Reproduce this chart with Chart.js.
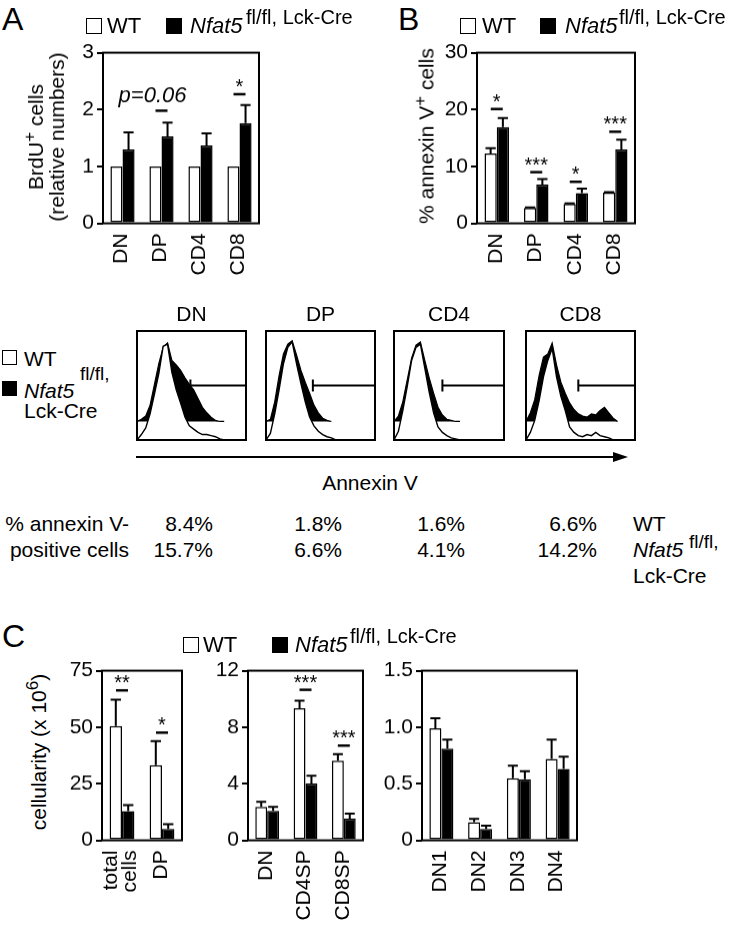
<!DOCTYPE html>
<html>
<head>
<meta charset="utf-8">
<script src="https://cdn.jsdelivr.net/npm/chart.js@4/dist/chart.umd.min.js"></script>
<style>
  body { margin: 0; background: #fff; }
  #fig { position: relative; width: 738px; height: 927px; overflow: hidden; color: #000;
         font-family: "Liberation Sans", Arial, sans-serif; }
  .t { position: absolute; white-space: nowrap; line-height: 1; }
  .sq { position: absolute; box-sizing: border-box; border: 1.5px solid #000; background: #fff; }
  .sq.k { background: #000; }
  .vt { position: absolute; white-space: nowrap; font-size: 21px; line-height: 21px; text-align: center;
        transform: translate(-50%, -50%) rotate(-90deg); }
  .vt sup { font-size: 17px; line-height: 0; }
  .cw { position: absolute; width: 300px; height: 300px; }
</style>
</head>
<body>
<div id="fig">
  <div class="cw" id="chA"><canvas></canvas></div>
  <div class="cw" id="chB"><canvas></canvas></div>
  <div class="cw" id="hDN"><canvas></canvas></div>
  <div class="cw" id="hDP"><canvas></canvas></div>
  <div class="cw" id="hCD4"><canvas></canvas></div>
  <div class="cw" id="hCD8"><canvas></canvas></div>
  <div class="cw" id="chC1"><canvas></canvas></div>
  <div class="cw" id="chC2"><canvas></canvas></div>
  <div class="cw" id="chC3"><canvas></canvas></div>
  <svg style="position:absolute;left:130px;top:450px" width="510" height="16">
    <line x1="6" y1="7" x2="488" y2="7" stroke="#000" stroke-width="2"/>
    <polygon points="498,7 483,2 483,12" fill="#000"/>
  </svg>
</div>
<script>
// groups
const groups = ['WT', 'Nfat5 fl/fl, Lck-Cre'];

// A: BrdU+ cells (relative numbers)
const aCats = ['DN', 'DP', 'CD4', 'CD8'];
const aWT = [1, 1, 1, 1];
const aWTerr = [null, null, null, null];
const aKO = [1.30, 1.53, 1.37, 1.76];
const aKOerr = [1.60, 1.77, 1.58, 2.08];
const aTicks = [0, 1, 2, 3];

// B: % annexin V+ cells
const bCats = ['DN', 'DP', 'CD4', 'CD8'];
const bWT = [12.3, 2.7, 3.4, 5.4];
const bWTerr = [13.2, 2.8, 3.5, 5.5];
const bKO = [16.9, 6.8, 5.3, 13.0];
const bKOerr = [18.5, 7.8, 6.1, 14.7];
const bTicks = [0, 10, 20, 30];

// histograms (annexin V, % of max)
const histCats = ['DN', 'DP', 'CD4', 'CD8'];
const histBins = [0, 4, 8, 12, 16, 20, 24, 28, 32, 36, 40, 44, 48, 52, 56, 60, 64, 68, 72, 76, 80, 84, 88, 92, 96, 100];
const hWT_DN = [0, 5, 11, 24, 42, 61, 86, 88, 62, 46, 34, 21, 13, 10, 7, 5, 5, 4, 3, 1, 0, 0, 0, 0, 0, 0];
const hKO_DN = [0, 2, 5, 15, 34, 53, 68, 72, 56, 52, 47, 40, 34, 29, 21, 13, 8, 4, 1, 0, 0, null, null, null, null, null];
const hWT_DP = [0, 6, 24, 46, 70, 85, 90, 70, 52, 35, 21, 13, 8, 5, 3, 2, 0, 0, 0, 0, 0, 0, 0, 0, 0, 0];
const hKO_DP = [0, 2, 18, 42, 62, 71, 74, 61, 47, 36, 26, 15, 8, 3, 1, 0, null, null, null, null, null, null, null, null, null, null];
const hWT_CD4 = [0, 8, 27, 49, 73, 85, 88, 66, 44, 25, 12, 7, 4, 2, 1, 0, 0, 0, 0, 0, 0, 0, 0, 0, 0, 0];
const hKO_CD4 = [0, 5, 18, 38, 58, 70, 73, 56, 40, 26, 13, 6, 2, 1, 0, 0, null, null, null, null, null, null, null, null, null, null];
const hWT_CD8 = [0, 7, 18, 36, 58, 73, 84, 58, 40, 27, 12, 7, 4, 3, 5, 4, 7, 4, 3, 2, 0, 0, 0, 0, 0, 0];
const hKO_CD8 = [0, 8, 20, 42, 59, 62, 72, 52, 36, 26, 17, 11, 7, 5, 4, 7, 6, 10, 13, 8, 3, 0, null, null, null, null];
const gateStart = [49, 43, 44, 48];
const gateLevel = 50;
const koBase = 17;

// % annexin V-positive cells
const pctWT = [8.4, 1.8, 1.6, 6.6];
const pctKO = [15.7, 6.6, 4.1, 14.2];

// C: cellularity (x 10^6)
const c1Cats = [['total', 'cells'], 'DP'];
const c1WT = [50.5, 33.2];
const c1WTerr = [62.2, 43.9];
const c1KO = [12.9, 5.0];
const c1KOerr = [15.6, 7.2];
const c1Ticks = [0, 25, 50, 75];

const c2Cats = ['DN', 'CD4SP', 'CD8SP'];
const c2WT = [2.37, 9.35, 5.63];
const c2WTerr = [2.72, 9.87, 6.10];
const c2KO = [2.08, 4.02, 1.54];
const c2KOerr = [2.37, 4.57, 1.89];
const c2Ticks = [0, 4, 8, 12];

const c3Cats = ['DN1', 'DN2', 'DN3', 'DN4'];
const c3WT = [0.99, 0.16, 0.55, 0.72];
const c3WTerr = [1.08, 0.19, 0.66, 0.89];
const c3KO = [0.81, 0.10, 0.54, 0.63];
const c3KOerr = [0.89, 0.13, 0.61, 0.74];
const c3Ticks = [0, 0.5, 1.0, 1.5];

const FONT = '"Liberation Sans", Arial, sans-serif';
Chart.defaults.font.family = FONT;
Chart.defaults.font.size = 21;
Chart.defaults.color = '#000';

const fig = document.getElementById('fig');

// error bars (upper only)
const errorBars = {
  id: 'errorBars',
  afterDatasetsDraw(chart) {
    const { ctx, scales: { y } } = chart;
    ctx.save();
    ctx.strokeStyle = '#000';
    ctx.lineWidth = 2;
    chart.data.datasets.forEach((ds, di) => {
      chart.getDatasetMeta(di).data.forEach((bar, i) => {
        const e = ds.err && ds.err[i];
        if (e == null) return;
        const top = y.getPixelForValue(e);
        const half = bar.width * 0.42;
        ctx.beginPath();
        ctx.moveTo(bar.x, bar.y);
        ctx.lineTo(bar.x, top);
        ctx.moveTo(bar.x - half, top);
        ctx.lineTo(bar.x + half, top);
        ctx.stroke();
      });
    });
    ctx.restore();
  }
};

// box round the plot
const frame = {
  id: 'frame',
  afterDatasetsDraw(chart) {
    const { ctx, chartArea: a } = chart;
    ctx.save();
    ctx.strokeStyle = '#000';
    ctx.lineWidth = 2;
    ctx.strokeRect(a.left, a.top, a.right - a.left, a.bottom - a.top);
    ctx.restore();
  }
};

// rotated category labels, multi-line labels centred on the tick
const xLabels = {
  id: 'xLabels',
  afterDraw(chart) {
    const { ctx, scales: { x }, chartArea: a } = chart;
    ctx.save();
    ctx.fillStyle = '#000';
    ctx.font = '21px ' + FONT;
    ctx.textAlign = 'right';
    ctx.textBaseline = 'middle';
    chart.data.labels.forEach((lab, i) => {
      const lines = Array.isArray(lab) ? lab : [lab];
      ctx.save();
      ctx.translate(x.getPixelForValue(i) - 1, a.bottom + 10);
      ctx.rotate(-Math.PI / 2);
      lines.forEach((ln, j) => ctx.fillText(ln, 0, (j - (lines.length - 1) / 2) * 19));
      ctx.restore();
    });
    ctx.restore();
  }
};

// significance dashes and stars
const marks = {
  id: 'marks',
  afterDatasetsDraw(chart, args, opts) {
    const { ctx, scales: { x, y } } = chart;
    ctx.save();
    ctx.fillStyle = '#000';
    ctx.strokeStyle = '#000';
    (opts.list || []).forEach(m => {
      const px = x.getPixelForValue(m.at);
      const py = y.getPixelForValue(m.y);
      if (!m.noDash) {
        ctx.lineWidth = 2.5;
        ctx.beginPath();
        ctx.moveTo(px - 6, py);
        ctx.lineTo(px + 6, py);
        ctx.stroke();
      }
      if (m.text) {
        ctx.font = (m.italic ? 'italic ' : '') + (m.size || 20) + 'px ' + FONT;
        ctx.textAlign = 'center';
        ctx.textBaseline = 'alphabetic';
        ctx.fillText(m.text, px, py + (m.noDash ? 0 : -1));
      }
    });
    ctx.restore();
  }
};

// move and size the wrapper so the chart area lands on the given box
function placeChart(wrap, chart, area) {
  const ca = chart.chartArea;
  const mL = ca.left, mT = ca.top, mR = chart.width - ca.right, mB = chart.height - ca.bottom;
  wrap.style.left = (area[0] - mL) + 'px';
  wrap.style.top = (area[1] - mT) + 'px';
  wrap.style.width = (area[2] - area[0] + mL + mR) + 'px';
  wrap.style.height = (area[3] - area[1] + mT + mB) + 'px';
  chart.resize();
}

function barChart(id, area, cats, wt, wtErr, ko, koErr, ticks, list, fmt) {
  const wrap = document.getElementById(id);
  const chart = new Chart(wrap.querySelector('canvas'), {
    type: 'bar',
    data: {
      labels: cats,
      datasets: [
        { label: groups[0], data: wt, err: wtErr, backgroundColor: '#fff', borderColor: '#000',
          borderWidth: 1.5, borderSkipped: false, categoryPercentage: 0.62, barPercentage: 1 },
        { label: groups[1], data: ko, err: koErr, backgroundColor: '#000', borderColor: '#000',
          borderWidth: 1.5, borderSkipped: false, categoryPercentage: 0.62, barPercentage: 1 }
      ]
    },
    options: {
      responsive: true,
      maintainAspectRatio: false,
      animation: false,
      events: [],
      layout: { padding: { top: 14, right: 6 } },
      plugins: { legend: { display: false }, tooltip: { enabled: false }, marks: { list: list } },
      scales: {
        x: {
          grid: { display: false },
          border: { display: false },
          ticks: { display: false },
          afterFit: s => { s.height = 80; }
        },
        y: {
          min: ticks[0],
          max: ticks[ticks.length - 1],
          afterBuildTicks: s => { s.ticks = ticks.map(v => ({ value: v })); },
          ticks: { padding: 3, callback: fmt || (v => String(v)) },
          grid: { drawOnChartArea: false, tickLength: 6, color: '#000', lineWidth: 2 },
          border: { display: false },
          afterFit: s => { s.width = 50; }
        }
      }
    },
    plugins: [errorBars, frame, marks, xLabels]
  });
  placeChart(wrap, chart, area);
}

function histChart(id, area, wt, ko, gate) {
  const wrap = document.getElementById(id);
  const chart = new Chart(wrap.querySelector('canvas'), {
    type: 'line',
    data: {
      datasets: [
        { label: 'gate', data: [{ x: gate, y: gateLevel }, { x: 100, y: gateLevel }],
          borderColor: '#000', borderWidth: 2, fill: false, order: 0,
          pointStyle: 'line', pointRotation: 90, pointRadius: [6, 0], pointBorderWidth: 2, pointBorderColor: '#000' },
        { label: groups[0], data: histBins.map((b, i) => ({ x: b, y: wt[i] })),
          borderColor: '#000', borderWidth: 1.4, backgroundColor: '#fff', fill: 'origin',
          pointRadius: 0, tension: 0, order: 1 },
        { label: groups[1], data: histBins.map((b, i) => ({ x: b, y: ko[i] == null ? null : ko[i] + koBase })),
          borderColor: '#000', borderWidth: 1.2, backgroundColor: '#000', fill: { value: koBase },
          pointRadius: 0, tension: 0, order: 2 }
      ]
    },
    options: {
      responsive: true,
      maintainAspectRatio: false,
      animation: false,
      events: [],
      layout: { padding: 2 },
      plugins: { legend: { display: false }, tooltip: { enabled: false } },
      scales: {
        x: { type: 'linear', min: 0, max: 100, display: false },
        y: { min: 0, max: 100, display: false }
      }
    },
    plugins: [frame]
  });
  placeChart(wrap, chart, area);
}

barChart('chA', [103, 53, 259, 223], aCats, aWT, aWTerr, aKO, aKOerr, aTicks, [
  { at: 1, y: 1.98 },
  { at: 0.77, y: 2.12, text: 'p=0.06', italic: true, size: 22, noDash: true },
  { at: 3, y: 2.27, text: '*' }
]);
barChart('chB', [477, 53, 635, 223], bCats, bWT, bWTerr, bKO, bKOerr, bTicks, [
  { at: 0, y: 20.1, text: '*' },
  { at: 1, y: 9.0, text: '***' },
  { at: 2, y: 7.3, text: '*' },
  { at: 3, y: 16.1, text: '***' }
]);
barChart('chC1', [102, 671, 182, 840], c1Cats, c1WT, c1WTerr, c1KO, c1KOerr, c1Ticks, [
  { at: 0, y: 66.3, text: '**' },
  { at: 1, y: 47.6, text: '*' }
]);
barChart('chC2', [248, 671, 363, 840], c2Cats, c2WT, c2WTerr, c2KO, c2KOerr, c2Ticks, [
  { at: 1, y: 10.65, text: '***' },
  { at: 2, y: 6.7, text: '***' }
]);
barChart('chC3', [422, 671, 577, 840], c3Cats, c3WT, c3WTerr, c3KO, c3KOerr, c3Ticks, [],
  v => v === 0 ? '0' : v.toFixed(1));

const histBoxes = [[137, 331, 246, 440], [266, 331, 375, 440], [394, 331, 504, 440], [526, 331, 635, 440]];
histChart('hDN', histBoxes[0], hWT_DN, hKO_DN, gateStart[0]);
histChart('hDP', histBoxes[1], hWT_DP, hKO_DP, gateStart[1]);
histChart('hCD4', histBoxes[2], hWT_CD4, hKO_CD4, gateStart[2]);
histChart('hCD8', histBoxes[3], hWT_CD8, hKO_CD8, gateStart[3]);

// text
function label(html, x, cy, size, align, style) {
  const d = document.createElement('div');
  d.className = 't';
  d.innerHTML = html;
  d.style.left = x + 'px';
  d.style.top = (cy - size * 0.5) + 'px';
  d.style.fontSize = size + 'px';
  if (align === 'center') d.style.transform = 'translateX(-50%)';
  if (align === 'right') d.style.transform = 'translateX(-100%)';
  if (style) d.style.cssText += style;
  fig.appendChild(d);
}
function square(x, y, s, filled) {
  const d = document.createElement('div');
  d.className = 'sq' + (filled ? ' k' : '');
  d.style.left = x + 'px';
  d.style.top = y + 'px';
  d.style.width = s + 'px';
  d.style.height = s + 'px';
  fig.appendChild(d);
}
function vtitle(html, cx, cy) {
  const d = document.createElement('div');
  d.className = 'vt';
  d.innerHTML = html;
  d.style.left = cx + 'px';
  d.style.top = cy + 'px';
  fig.appendChild(d);
}
function legend(x, y, wtX, koBox, koX, supX) {
  square(x, y, 16, false);
  label(groups[0], wtX, y + 8, 22);
  square(koBox, y, 16, true);
  label('<i>Nfat5</i>', koX, y + 8, 22);
  label('fl/fl, Lck-Cre', supX, y - 1, 20);
}

label('A', 2, 19, 32);
label('B', 398, 19, 32);
label('C', 2, 636, 32);

legend(86, 18, 107, 166, 190, 246);
legend(460, 18, 482, 540, 565, 619);
legend(183, 637, 203, 272, 295, 350);

vtitle('BrdU<sup>+</sup> cells<br>(relative numbers)', 46, 137);
vtitle('% annexin V<sup>+</sup> cells', 426, 136);
vtitle('cellularity (x 10<sup>6</sup>)', 38, 752);

histCats.forEach((c, i) => {
  const b = histBoxes[i];
  label(c, (b[0] + b[2]) / 2, 313, 21, 'center');
});
square(2, 350, 15, false);
label(groups[0], 24, 358, 21);
square(2, 381, 15, true);
label('<i>Nfat5</i>', 24, 390, 21);
label('fl/fl,', 80, 373, 19);
label('Lck-Cre', 24, 410, 21);
label('Annexin V', 370, 482, 21, 'center');

label('% annexin V-', 129, 523, 21, 'right');
label('positive cells', 129, 549, 21, 'right');
const pctRight = [213, 342, 465, 597];
pctWT.forEach((v, i) => label(v.toFixed(1) + '%', pctRight[i], 523, 21, 'right'));
pctKO.forEach((v, i) => label(v.toFixed(1) + '%', pctRight[i], 549, 21, 'right'));
label(groups[0], 633, 523, 21);
label('<i>Nfat5</i>', 633, 549, 21);
label('fl/fl,', 689, 541, 19);
label('Lck-Cre', 633, 575, 21);
</script>
</body>
</html>
